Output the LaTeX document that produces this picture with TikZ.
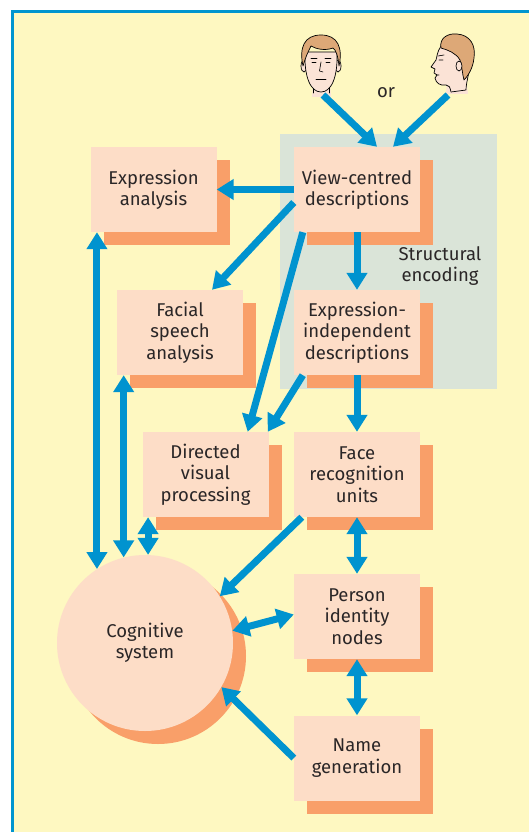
\documentclass[tikz,border=0pt]{standalone}
\usepackage{fontspec}
\setmainfont{Fira Sans}
\usetikzlibrary{arrows.meta,calc,shadows}

\definecolor{paper}{HTML}{FEF8C1}
\definecolor{rule}{HTML}{0095CF}
\definecolor{flow}{HTML}{0093CF}
\definecolor{peach}{HTML}{FDDDC7}
\definecolor{tangerine}{HTML}{F99F69}
\definecolor{sage}{HTML}{DAE4D8}
\definecolor{ink}{HTML}{2A2627}
\definecolor{skin}{HTML}{FBE3D6}
\definecolor{hair}{HTML}{DDA877}

\tikzset{
  labeltext/.style={text=ink, font=\fontsize{18.5}{21.3}\selectfont, align=center},
  stagebox/.style={labeltext, rectangle, fill=peach, minimum width=126pt, minimum height=85pt, inner sep=0pt,
    drop shadow={shadow xshift=13pt, shadow yshift=-13pt, fill=tangerine, opacity=1}},
  hub/.style={labeltext, circle, fill=peach, minimum size=176pt, inner sep=0pt,
    drop shadow={shadow xshift=13pt, shadow yshift=-13pt, fill=tangerine, opacity=1}},
  oneway/.style={draw=flow, line width=7pt, -{Triangle[length=17pt, width=20pt]}},
  twoway/.style={draw=flow, line width=7pt, {Triangle[length=17pt, width=20pt]}-{Triangle[length=17pt, width=20pt]}},
  outline/.style={draw=black, line width=0.7pt, line join=round},
  feature/.style={draw=black, line width=0.6pt, line cap=round}
}

\begin{document}
\begin{tikzpicture}[x=1pt, y=-1pt]
  % page and frame
  \useasboundingbox (0,0) rectangle (529,832);
  \fill[white] (0,0) rectangle (529,832);
  \fill[paper] (11,10) rectangle (529,832);
  \fill[rule] (11,10) rectangle (14,832);
  \fill[rule] (11,10) rectangle (529,13);

  % structural encoding panel
  \fill[sage] (280,134) rectangle (497,389);
  \node[labeltext] (structlabel) at (440,266) {Structural\\encoding};

  % front view head
  \fill[skin] (313,82) -- (312,97) -- (331,97) -- (330,82) -- cycle;
  \draw[feature] (313,84) -- (313,93) (329,84) -- (329,93);
  \filldraw[skin, outline] (304,66) ellipse (3 and 6);
  \filldraw[skin, outline] (338,66) ellipse (3 and 6);
  \filldraw[skin, outline] (305,52) .. controls (304,78) and (311,92) .. (321,92)
     .. controls (331,92) and (338,78) .. (337,52) -- cycle;
  \filldraw[hair, outline] (303,66) .. controls (299,48) and (304,35) .. (321,35)
     .. controls (338,35) and (343,48) .. (339,66) .. controls (338,56) and (336,50) .. (333,48)
     .. controls (325,51) and (316,49) .. (311,46) .. controls (308,52) and (306,56) .. (303,66) -- cycle;
  \draw[feature] (311,58) -- (317,58) (325,58) -- (331,58);
  \draw[feature] (312,62) -- (316,62) (326,62) -- (330,62);
  \draw[feature] (321,62) -- (319.5,71) -- (323,72);
  \draw[feature] (316,79) -- (326,79);

  % profile head
  \fill[skin] (447,80) -- (446,94) -- (468,94) -- (466,76) -- cycle;
  \filldraw[skin, outline] (441,46) .. controls (437,52) and (437,57) .. (436,60) -- (431,67) -- (435,69)
     -- (434,73) -- (437,75) -- (435,78) .. controls (436,83) and (440,86) .. (446,85)
     .. controls (449,85) and (450,87) .. (451,92) -- (466,90) .. controls (466,82) and (470,72) .. (470,60) -- cycle;
  \filldraw[hair, outline] (441,48) .. controls (439,38) and (448,33) .. (457,34)
     .. controls (470,35) and (476,45) .. (474,58) .. controls (473,68) and (468,76) .. (464,80)
     .. controls (462,72) and (462,66) .. (460,60) .. controls (456,53) and (448,50) .. (441,48) -- cycle;
  \filldraw[skin, outline] (459,66) ellipse (3 and 5);
  \draw[feature] (438,56) -- (444,55) (439,60) -- (443,60) (436,75) -- (439,75);

  \coordinate (frontview) at (323,95);
  \coordinate (sideview) at (448,95);
  \node[labeltext] (or) at (386,93) {or};

  % processing stages
  \node[stagebox] (view)    at (357,189.5) {View-centred\\descriptions};
  \node[stagebox] (exprind) at (357,332.5) {Expression-\\independent\\descriptions};
  \node[stagebox] (expr)    at (153.5,189.5) {Expression\\analysis};
  \node[stagebox] (speech)  at (180,332.5) {Facial\\speech\\analysis};
  \node[stagebox] (directed) at (205.5,474.5) {Directed\\visual\\processing};
  \node[stagebox] (fru)     at (357,474.5) {Face\\recognition\\units};
  \node[stagebox] (pin)     at (357,616.5) {Person\\identity\\nodes};
  \node[stagebox] (naming)  at (357,758) {Name\\generation};
  \node[hub] (cog) at (145,643) {Cognitive\\system};

  % connectors
  \draw[oneway] (frontview) -- ($(view.north)+(20,0)$);
  \draw[oneway] (sideview) -- ($(view.north)+(36,0)$);
  \draw[oneway] (view.west) -- (expr.east);
  \draw[oneway] ($(view.west)+(0,13)$) -- ($(speech.north)+(32,0)$);
  \draw[oneway] ($(view.south west)+(9,0)$) -- ($(directed.north east)+(-21,0)$);
  \draw[oneway] ($(exprind.south west)+(9,0)$) -- ($(directed.north east)+(-1,0)$);
  \draw[oneway] (view.south) -- (exprind.north);
  \draw[oneway] (exprind.south) -- (fru.north);
  \draw[twoway] (fru.south) -- (pin.north);
  \draw[twoway] (pin.south) -- (naming.north);
  \draw[oneway] ($(fru.south west)+(8,0)$) -- (cog.32);
  \draw[twoway] (cog.8) -- ($(pin.west)+(0,-2)$);
  \draw[oneway] (naming.west) -- (cog.-30);
  \draw[twoway] (cog.123) -- (cog.123 |- expr.south);
  \draw[twoway] (cog.104.5) -- (cog.104.5 |- speech.south);
  \draw[twoway] (cog.88) -- (cog.88 |- directed.south);
\end{tikzpicture}
\end{document}
